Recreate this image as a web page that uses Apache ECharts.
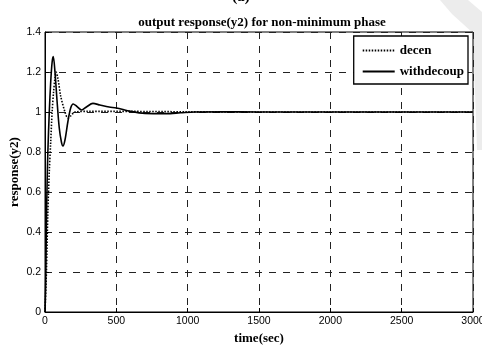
<!DOCTYPE html>
<html><head><meta charset="utf-8">
<script src="https://cdn.jsdelivr.net/npm/echarts@6/dist/echarts.min.js"></script>
<style>html,body{margin:0;padding:0;background:#fff}#c{width:482px;height:345px}</style>
</head><body><div id="c"></div>
<script>
var xTicks = [0, 500, 1000, 1500, 2000, 2500, 3000];
var yTicks = [0, 0.2, 0.4, 0.6, 0.8, 1, 1.2, 1.4];
var decenT = [0, 10, 20, 30, 40, 50, 60, 70, 77, 90, 110, 140, 160, 180, 210, 300, 600, 1000, 1500, 2000, 2500, 3000];
var decenY = [0, 0.2, 0.5, 0.7, 0.85, 1.0, 1.1, 1.17, 1.2, 1.17, 1.08, 1.0, 0.97, 0.98, 1.0, 1.003, 1.003, 1.001, 1.0, 1.0, 1.0, 1.0];
var decoupT = [0, 5, 10, 15, 20, 30, 40, 50, 58, 70, 85, 100, 115, 126, 140, 160, 180, 198, 220, 257, 290, 336, 385, 450, 500, 600, 700, 850, 950, 1050, 1250, 1500, 2000, 2500, 3000];
var decoupY = [0, 0.15, 0.45, 0.65, 0.8, 1.0, 1.15, 1.25, 1.277, 1.2, 1.05, 0.92, 0.85, 0.83, 0.86, 0.95, 1.02, 1.04, 1.03, 1.01, 1.025, 1.043, 1.035, 1.025, 1.02, 1.003, 0.993, 0.992, 0.996, 1.0, 1.001, 1.0, 1.0, 1.0, 1.0];

function pairs(t, y) { return t.map(function (v, i) { return [v, y[i]]; }); }

var chart = echarts.init(document.getElementById('c'), null, {renderer: 'canvas'});
var serif = '"Liberation Serif", "Times New Roman", serif';
var sans = '"Liberation Sans", Arial, sans-serif';
var gridLine = {show: true, lineStyle: {color: '#222', type: [7, 7], width: 1}};
chart.setOption({
  animation: false,
  backgroundColor: '#fff',
  graphic: [
    {type: 'polygon', z: -10, silent: true,
     shape: {points: [[440, 0], [468, 0], [482, 12], [482, 150], [477, 150], [473, 33], [452, 14]]},
     style: {fill: '#ececec'}}
  ],
  title: [
    {text: '(a)', left: 'center', top: -15, textStyle: {fontFamily: serif, fontWeight: 'bold', fontSize: 15, color: '#000'}},
    {text: 'output response(y2) for non-minimum phase', left: 257, textAlign: 'center', top: 11, textStyle: {fontFamily: serif, fontWeight: 'bold', fontSize: 13, color: '#000'}}
  ],
  legend: {
    right: 14, top: 36, orient: 'vertical', itemGap: 8, itemWidth: 32, itemHeight: 10,
    padding: [8, 4, 6, 8],
    backgroundColor: '#fff', borderColor: '#000', borderWidth: 1.3, borderRadius: 0,
    itemStyle: {opacity: 0},
    textStyle: {fontFamily: serif, fontWeight: 'bold', fontSize: 13, color: '#000', padding: [0, 0, 0, 0]},
    data: ['decen', 'withdecoup']
  },
  grid: {left: 45, right: 9, top: 32, bottom: 33, show: true, borderColor: '#000', borderWidth: 1,
         backgroundColor: 'transparent', containLabel: false, outerBoundsMode: 'none'},
  xAxis: {
    type: 'value', min: 0, max: 3000, interval: 500,
    name: 'time(sec)', nameLocation: 'middle', nameGap: 20, nameMoveOverlap: false,
    nameTextStyle: {fontFamily: serif, fontWeight: 'bold', fontSize: 13, color: '#000'},
    axisLine: {show: true, lineStyle: {color: '#000'}},
    axisTick: {show: true, inside: true, length: 4, lineStyle: {color: '#000'}},
    axisLabel: {fontFamily: sans, fontSize: 10.5, color: '#000', margin: 4,
      formatter: function (v) { return String(v); }},
    splitLine: gridLine
  },
  yAxis: {
    type: 'value', min: 0, max: 1.4, interval: 0.2,
    name: 'response(y2)', nameLocation: 'middle', nameGap: 24, nameMoveOverlap: false,
    nameTextStyle: {fontFamily: serif, fontWeight: 'bold', fontSize: 13, color: '#000'},
    axisLine: {show: true, lineStyle: {color: '#000'}},
    axisTick: {show: true, inside: true, length: 4, lineStyle: {color: '#000'}},
    axisLabel: {fontFamily: sans, fontSize: 10.5, color: '#000', margin: 4,
      formatter: function (v) { return String(Math.round(v * 10) / 10); }},
    splitLine: gridLine
  },
  series: [
    {name: 'decen', type: 'line', data: pairs(decenT, decenY), symbol: 'none', smooth: 0.3,
     lineStyle: {color: '#000', width: 1.6, type: [1.5, 1.5]}, itemStyle: {color: '#000'}, z: 3},
    {name: 'withdecoup', type: 'line', data: pairs(decoupT, decoupY), symbol: 'none', smooth: 0.3,
     lineStyle: {color: '#000', width: 1.6, type: 'solid'}, itemStyle: {color: '#000'}, z: 4}
  ]
});
</script></body></html>
